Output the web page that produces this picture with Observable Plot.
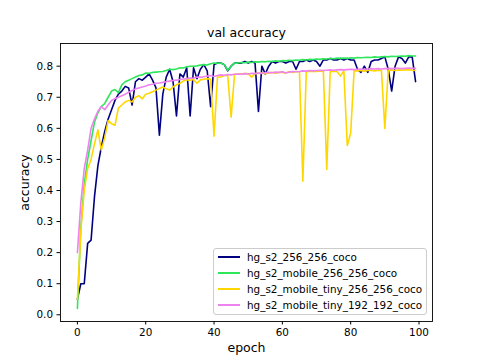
<!DOCTYPE html>
<html>
<head>
<meta charset="utf-8">
<script src="https://cdn.jsdelivr.net/npm/d3@7"></script>
<script src="https://cdn.jsdelivr.net/npm/@observablehq/plot@0.6"></script>
<style>
  html, body { margin: 0; padding: 0; background: #fff; }
  #wrap { position: relative; width: 480px; height: 360px; font-family: "DejaVu Sans", sans-serif; }
  #legend { position: absolute; left: 213px; top: 248px; width: 212px; height: 65px;
    border: 1px solid #cccccc; border-radius: 3px; background: rgba(255,255,255,0.8);
    font-size: 10.4px; color: #000; }
  .row { position: absolute; left: 0; width: 100%; height: 14px; }
  .sw { position: absolute; left: 4px; top: 6px; width: 22px; height: 2px; }
  .lb { position: absolute; left: 33px; top: 0; white-space: nowrap; line-height: 14px; }
</style>
</head>
<body>
<div id="wrap"><div id="legend"></div></div>
<script>
const seriesNames = ["hg_s2_256_256_coco", "hg_s2_mobile_256_256_coco", "hg_s2_mobile_tiny_256_256_coco", "hg_s2_mobile_tiny_192_192_coco"];
const seriesColors = ["#000080", "#2ee65a", "#ffd700", "#ee82ee"];
const xTicks = [0, 20, 40, 60, 80, 100];
const yTicks = [0.0, 0.1, 0.2, 0.3, 0.4, 0.5, 0.6, 0.7, 0.8];

const accNavy = [0.05,0.10,0.10,0.23,0.24,0.38,0.48,0.54,0.59,0.63,
  0.66,0.69,0.71,0.72,0.735,0.73,0.675,0.75,0.76,0.755,
  0.765,0.775,0.755,0.73,0.578,0.71,0.765,0.79,0.75,0.64,
  0.775,0.765,0.795,0.64,0.795,0.76,0.79,0.805,0.785,0.67,
  0.805,0.81,0.81,0.805,0.785,0.80,0.81,0.81,0.81,0.815,
  0.81,0.815,0.81,0.654,0.80,0.775,0.80,0.815,0.81,0.815,
  0.815,0.81,0.815,0.815,0.79,0.815,0.815,0.82,0.815,0.82,
  0.815,0.80,0.82,0.82,0.825,0.82,0.82,0.825,0.82,0.825,
  0.82,0.82,0.79,0.78,0.80,0.78,0.815,0.82,0.82,0.825,
  0.83,0.79,0.72,0.80,0.83,0.825,0.81,0.83,0.83,0.75];
const accMobile = [0.02,0.28,0.42,0.50,0.56,0.62,0.65,0.67,0.68,0.70,
  0.72,0.725,0.715,0.74,0.75,0.755,0.76,0.765,0.77,0.772,
  0.778,0.777,0.78,0.781,0.782,0.783,0.786,0.79,0.789,0.791,
  0.795,0.794,0.798,0.80,0.80,0.801,0.804,0.805,0.804,0.808,
  0.81,0.809,0.81,0.805,0.787,0.80,0.81,0.81,0.812,0.811,
  0.813,0.812,0.814,0.813,0.815,0.814,0.816,0.815,0.817,0.816,
  0.818,0.817,0.819,0.818,0.82,0.819,0.821,0.82,0.822,0.821,
  0.823,0.822,0.824,0.823,0.825,0.824,0.826,0.825,0.826,0.825,
  0.827,0.826,0.828,0.827,0.828,0.829,0.828,0.83,0.829,0.83,
  0.831,0.83,0.832,0.831,0.832,0.833,0.832,0.834,0.833,0.833];
const accTiny256 = [0.05,0.27,0.40,0.47,0.50,0.55,0.595,0.53,0.57,0.625,
  0.615,0.61,0.665,0.675,0.685,0.69,0.685,0.70,0.705,0.695,
  0.71,0.713,0.718,0.723,0.728,0.733,0.727,0.723,0.733,0.74,
  0.745,0.752,0.756,0.755,0.757,0.745,0.756,0.758,0.76,0.758,
  0.575,0.765,0.765,0.77,0.77,0.636,0.774,0.775,0.775,0.776,
  0.776,0.765,0.776,0.777,0.778,0.776,0.778,0.78,0.777,0.78,
  0.78,0.778,0.782,0.78,0.783,0.782,0.43,0.783,0.783,0.784,
  0.783,0.785,0.784,0.468,0.782,0.784,0.783,0.768,0.785,0.545,
  0.585,0.785,0.785,0.786,0.784,0.786,0.787,0.785,0.787,0.786,
  0.60,0.787,0.788,0.786,0.788,0.787,0.788,0.789,0.787,0.786];
const accTiny192 = [0.20,0.36,0.47,0.53,0.60,0.63,0.655,0.67,0.66,0.675,
  0.69,0.695,0.70,0.705,0.71,0.716,0.722,0.727,0.73,0.733,
  0.736,0.74,0.742,0.745,0.746,0.748,0.75,0.752,0.754,0.755,
  0.757,0.759,0.76,0.762,0.761,0.765,0.764,0.766,0.768,0.77,
  0.767,0.77,0.772,0.771,0.773,0.772,0.774,0.775,0.774,0.776,
  0.775,0.777,0.776,0.778,0.777,0.779,0.78,0.779,0.781,0.78,
  0.782,0.778,0.781,0.783,0.782,0.783,0.785,0.784,0.786,0.785,
  0.786,0.787,0.786,0.787,0.788,0.787,0.788,0.789,0.788,0.789,
  0.79,0.789,0.79,0.791,0.79,0.791,0.792,0.791,0.792,0.791,
  0.792,0.793,0.792,0.793,0.793,0.792,0.793,0.794,0.793,0.793];

const allSeries = [accNavy, accMobile, accTiny256, accTiny192];
const tables = allSeries.map((vals, k) => vals.map((v, i) => ({epoch: i, value: v, series: seriesNames[k]})));

const chart = Plot.plot({
  width: 480, height: 360,
  marginLeft: 60, marginRight: 48, marginTop: 43, marginBottom: 39,
  x: {domain: [-4.95, 103.95]},
  y: {domain: [-0.0216, 0.873]},
  style: {fontFamily: "DejaVu Sans", fontSize: "10.4px", color: "#000", background: "#fff", overflow: "visible"},
  marks: [
    ...tables.map((t, k) => Plot.line(t, {x: "epoch", y: "value", stroke: seriesColors[k], strokeWidth: 1.6})),
    Plot.frame({stroke: "#000", strokeWidth: 0.9}),
    Plot.axisX({ticks: xTicks, tickSize: 3.5, tickPadding: 4, tickFormat: d => String(d), label: null}),
    Plot.axisY({ticks: yTicks, tickSize: 3.5, tickPadding: 4, tickFormat: d3.format(".1f"), label: null}),
    Plot.text(["val accuracy"], {frameAnchor: "top", lineAnchor: "middle", textAnchor: "middle", dy: -11, fontSize: 12.5, fill: "#000"}),
    Plot.text(["epoch"], {frameAnchor: "bottom", lineAnchor: "middle", textAnchor: "middle", dy: 26, fontSize: 12.5, fill: "#000"}),
    Plot.text(["accuracy"], {frameAnchor: "left", lineAnchor: "middle", textAnchor: "middle", dx: -36, rotate: -90, fontSize: 12.5, fill: "#000"})
  ]
});
const wrap = document.getElementById("wrap");
wrap.insertBefore(chart, wrap.firstChild);

const legend = document.getElementById("legend");
seriesNames.forEach((name, k) => {
  const row = document.createElement("div");
  row.className = "row";
  row.style.top = (1 + k * 16) + "px";
  const sw = document.createElement("div");
  sw.className = "sw";
  sw.style.background = seriesColors[k];
  const lb = document.createElement("div");
  lb.className = "lb";
  lb.textContent = name;
  row.appendChild(sw);
  row.appendChild(lb);
  legend.appendChild(row);
});
</script>
</body>
</html>
